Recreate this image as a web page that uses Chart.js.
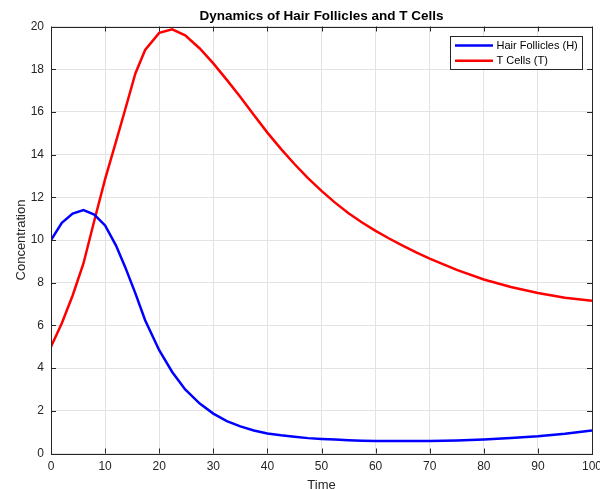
<!DOCTYPE html>
<html>
<head>
<meta charset="utf-8">
<script src="https://cdn.jsdelivr.net/npm/chart.js@4.4.1/dist/chart.umd.min.js"></script>
<style>
  html, body { margin: 0; padding: 0; background: #fff; }
  #wrap { width: 600px; height: 489px; }
</style>
</head>
<body>
<div id="wrap"><canvas id="c" width="600" height="489"></canvas></div>
<script>
// ---- data ----
const timePoints = [0, 2, 4, 6, 8, 10, 12, 13.7, 15.6, 17.4, 20, 22.4, 24.8, 27.5, 30, 32.5, 35, 37.5, 40, 42.5, 45, 47.5, 50, 52.5, 55, 57.5, 60, 62.5, 65, 67.5, 70, 75, 80, 85, 90, 95, 100];
const hairFollicles = [10, 10.8, 11.24, 11.4, 11.19, 10.68, 9.75, 8.74, 7.5, 6.24, 4.84, 3.82, 3.0, 2.34, 1.87, 1.52, 1.27, 1.08, 0.94, 0.85, 0.78, 0.72, 0.68, 0.65, 0.62, 0.6, 0.59, 0.585, 0.58, 0.58, 0.58, 0.61, 0.66, 0.73, 0.81, 0.93, 1.08];
const tCells = [5, 6.1, 7.4, 8.9, 10.9, 12.85, 14.6, 16.1, 17.8, 18.9, 19.7, 19.87, 19.59, 18.97, 18.27, 17.5, 16.7, 15.85, 15.03, 14.27, 13.56, 12.9, 12.3, 11.75, 11.25, 10.82, 10.43, 10.07, 9.74, 9.42, 9.13, 8.6, 8.15, 7.8, 7.52, 7.3, 7.15];
const seriesLabels = ['Hair Follicles (H)', 'T Cells (T)'];
const chartTitle = 'Dynamics of Hair Follicles and T Cells';
const xTitle = 'Time';
const yTitle = 'Concentration';

const FONT = '"Liberation Sans", Arial, Helvetica, sans-serif';
const AX = '#262626';

function toXY(xs, ys) { return xs.map((x, i) => ({ x: x, y: ys[i] })); }

const frameAndTicks = {
  id: 'frameAndTicks',
  afterDatasetsDraw(chart) {
    const { ctx, chartArea: a, scales } = chart;
    ctx.save();
    ctx.strokeStyle = AX;
    ctx.lineWidth = 1;
    const L = 5;
    ctx.beginPath();
    scales.x.ticks.forEach(t => {
      const px = Math.round(scales.x.getPixelForValue(t.value)) + 0.5;
      ctx.moveTo(px, a.bottom); ctx.lineTo(px, a.bottom - L);
      ctx.moveTo(px, a.top); ctx.lineTo(px, a.top + L);
    });
    scales.y.ticks.forEach(t => {
      const py = Math.round(scales.y.getPixelForValue(t.value)) + 0.5;
      ctx.moveTo(a.left, py); ctx.lineTo(a.left + L, py);
      ctx.moveTo(a.right, py); ctx.lineTo(a.right - L, py);
    });
    ctx.stroke();
    ctx.strokeRect(Math.round(a.left) + 0.5, Math.round(a.top) + 0.5, Math.round(a.right - a.left), Math.round(a.bottom - a.top));
    // legend box
    const bx = 450.5, by = 36.5, bw = 132, bh = 33;
    ctx.fillStyle = '#fff';
    ctx.fillRect(bx, by, bw, bh);
    ctx.strokeStyle = AX;
    ctx.strokeRect(bx, by, bw, bh);
    chart.data.datasets.forEach((ds, i) => {
      const y = 45.5 + i * 15.3;
      ctx.strokeStyle = ds.borderColor;
      ctx.lineWidth = 2.5;
      ctx.beginPath();
      ctx.moveTo(455, y); ctx.lineTo(493, y);
      ctx.stroke();
      ctx.fillStyle = '#000';
      ctx.font = '11px ' + FONT;
      ctx.textBaseline = 'middle';
      ctx.textAlign = 'left';
      ctx.fillText(ds.label, 496.5, y + 0.5);
    });
    ctx.restore();
  }
};

new Chart(document.getElementById('c'), {
  type: 'line',
  data: {
    datasets: [
      { label: seriesLabels[0], data: toXY(timePoints, hairFollicles), borderColor: '#0000ff', borderWidth: 2.5, pointRadius: 0, tension: 0, fill: false },
      { label: seriesLabels[1], data: toXY(timePoints, tCells), borderColor: '#ff0000', borderWidth: 2.5, pointRadius: 0, tension: 0, fill: false }
    ]
  },
  options: {
    responsive: false,
    animation: false,
    devicePixelRatio: 1,
    layout: { padding: { left: 0, right: 8, top: 0, bottom: 0 } },
    plugins: {
      legend: { display: false },
      tooltip: { enabled: false },
      title: {
        display: true, text: chartTitle, fullSize: false, color: '#000',
        font: { family: FONT, size: 13.5, weight: 'bold', lineHeight: 1.2 },
        padding: { top: 8.5, bottom: 1.8 }
      }
    },
    scales: {
      x: {
        type: 'linear', min: 0, max: 100,
        ticks: { stepSize: 10, color: AX, font: { family: FONT, size: 12 }, padding: 6, maxRotation: 0, autoSkip: false },
        grid: { color: '#e3e3e3', drawTicks: false },
        border: { display: false },
        title: { display: true, text: xTitle, color: AX, font: { family: FONT, size: 13, lineHeight: 1 }, padding: { top: 0, bottom: -3 } },
        afterFit(s) { s.height = 35.5; s.paddingLeft = 0; s.paddingRight = 0; }
      },
      y: {
        type: 'linear', min: 0, max: 20,
        ticks: { stepSize: 2, color: AX, font: { family: FONT, size: 12 }, padding: 7 },
        grid: { color: '#e3e3e3', drawTicks: false },
        border: { display: false },
        title: { display: true, text: yTitle, color: AX, font: { family: FONT, size: 13, lineHeight: 1.2 }, padding: { top: 13.5, bottom: 0 } },
        afterFit(s) { s.width = 51; s.paddingTop = 0; s.paddingBottom = 0; }
      }
    }
  },
  plugins: [frameAndTicks]
});
</script>
</body>
</html>
